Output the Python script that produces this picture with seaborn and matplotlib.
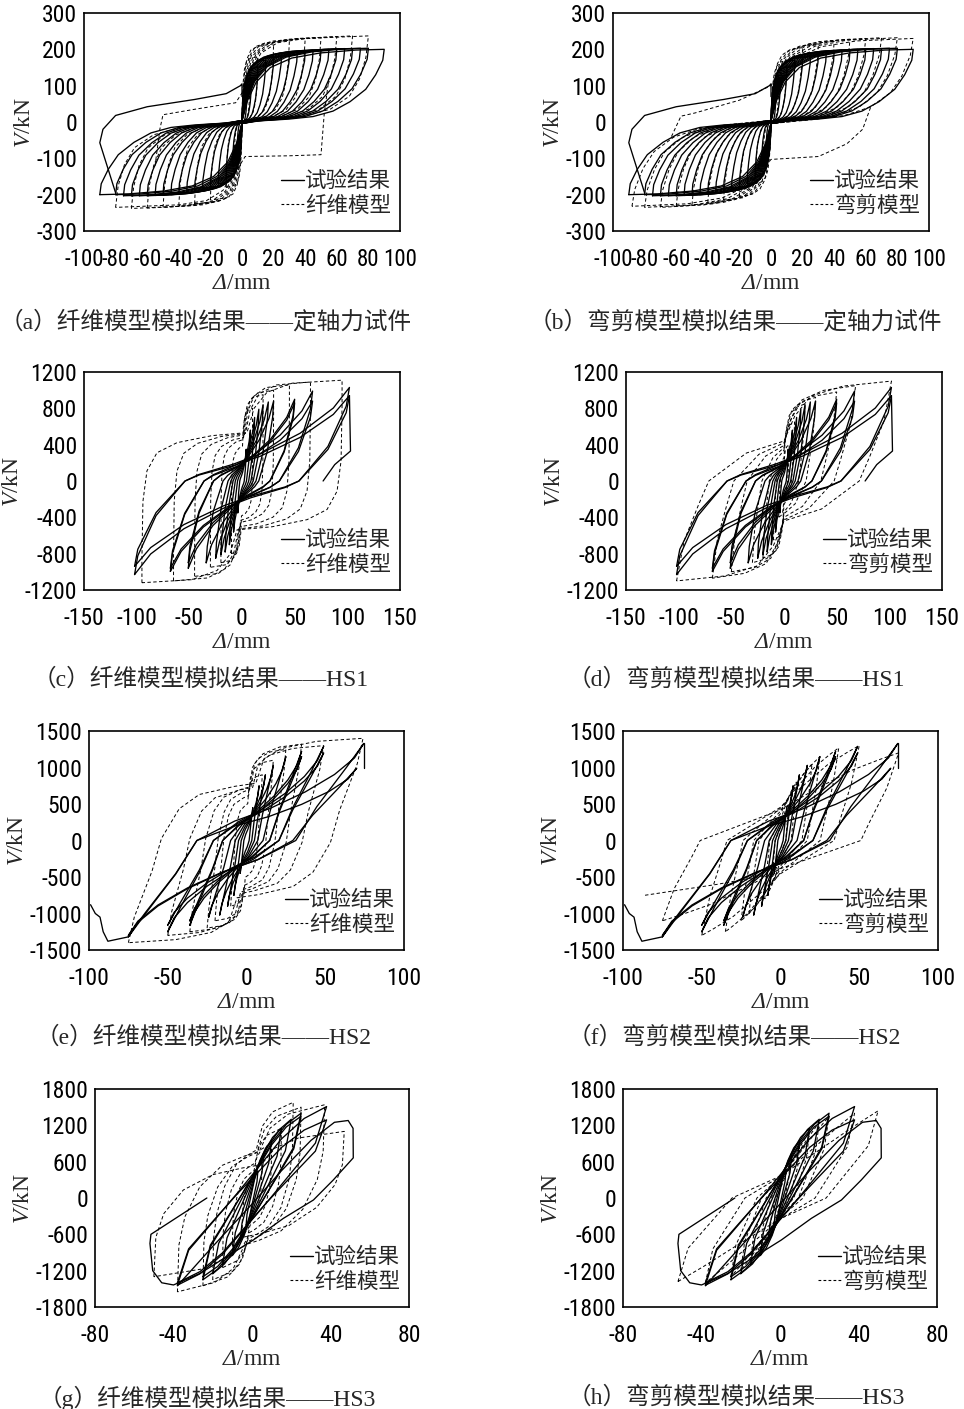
import numpy as np
import pandas as pd
import matplotlib
matplotlib.use('Agg')
import matplotlib.pyplot as plt
import seaborn as sns
from matplotlib.lines import Line2D
from matplotlib import font_manager

# ====== 定轴力试件 (a)(b) ======
# 试验结果: 各循环正/负向位移幅值 (mm) 与峰值剪力 (kN)
AX_test_amp_pos = [3, 6, 10, 15, 20, 25, 30, 35, 40, 45, 50, 55, 60, 65, 70, 75, 80, 90]
AX_test_v_pos = [70, 120, 150, 170, 180, 188, 192, 195, 197, 198, 199, 200, 201, 202, 202, 203, 203, 200]
AX_test_amp_neg = [3, 6, 10, 15, 20, 25, 30, 35, 40, 45, 50, 55, 60, 65, 70, 75, 80, 90]
AX_test_v_neg = [-70, -120, -150, -170, -180, -188, -192, -195, -198, -200, -201, -202, -203, -203, -203, -203, -200, -200]
# 归一化加载支 (从负向峰值到正向峰值), 卸载支取中心对称
AX_test_up_x = [-1, -0.99, -0.94, -0.87, -0.76, -0.64, -0.5, -0.33, -0.12, 0, 0.04, 0.1, 0.2, 0.35, 0.55, 0.8, 1]
AX_test_up_y = [-1, -0.85, -0.65, -0.45, -0.28, -0.15, -0.075, -0.04, -0.015, 0.02, 0.3, 0.55, 0.75, 0.88, 0.95, 0.99, 1]
AX_test_end_x = [-80, -90, -88, -80, -60, -30, -10, -1, 0, 0]
AX_test_end_y = [-195, -57, -20, 18, 42, 62, 78, 100, 105, 70]

AX_fib_amp_pos = [5, 10, 20, 30, 40, 50, 60, 70, 80]
AX_fib_v_pos = [120, 180, 215, 225, 230, 232, 235, 237, 237]
AX_fib_amp_neg = [5, 10, 20, 30, 40, 50, 60, 70, 80]
AX_fib_v_neg = [-120, -180, -215, -225, -230, -235, -237, -238, -235]
AX_fib_up_x = [-1, -0.98, -0.93, -0.85, -0.7, -0.5, -0.25, 0, 0.03, 0.08, 0.15, 0.28, 0.5, 1]
AX_fib_up_y = [-1, -0.75, -0.5, -0.3, -0.15, -0.07, -0.03, 0, 0.35, 0.62, 0.8, 0.92, 0.97, 1]
AX_fib_extra_x = [[55, 52, 50, 30, 2, -3], [-55, -52, -50, -30, -4, 3]]
AX_fib_extra_y = [[120, 20, -90, -93, -95, -130], [-120, -20, 20, 35, 53, 100]]

AX_fs_amp_pos = [5, 10, 20, 30, 40, 50, 60, 70, 80, 90]
AX_fs_v_pos = [110, 170, 205, 215, 222, 228, 230, 232, 232, 230]
AX_fs_amp_neg = [5, 10, 20, 30, 40, 50, 60, 70, 80, 88]
AX_fs_v_neg = [-110, -170, -205, -215, -222, -228, -232, -235, -235, -232]
AX_fs_up_x = [-1, -0.98, -0.92, -0.84, -0.7, -0.52, -0.3, 0, 0.04, 0.1, 0.2, 0.35, 0.6, 1]
AX_fs_up_y = [-1, -0.8, -0.55, -0.35, -0.18, -0.08, -0.03, 0.02, 0.32, 0.58, 0.78, 0.9, 0.97, 1]
AX_fs_extra_x = [[63, 58, 48, 30, 0, -5], [-63, -57, -48, -20, 0, 5]]
AX_fs_extra_y = [[40, -20, -60, -95, -103, -130], [-40, 16, 25, 60, 100, 130]]

# ====== HS1 (c)(d) ======
HS1_test_amp_pos = [4, 8, 12, 16, 20, 25, 30, 50, 50, 67, 67, 102, 102]
HS1_test_v_pos = [350, 560, 700, 790, 840, 870, 880, 900, 860, 990, 880, 1030, 940]
HS1_test_amp_neg = [4, 8, 12, 16, 20, 25, 34, 51, 51, 68, 68, 102, 102]
HS1_test_v_neg = [-350, -560, -700, -780, -810, -850, -900, -960, -900, -995, -960, -1030, -940]
HS1_test_up_x = [-1, -0.97, -0.8, -0.64, -0.53, -0.4, -0.08, 0.17, 0.54, 0.85, 1]
HS1_test_up_y = [-1, -0.8, -0.37, -0.15, 0, 0.07, 0.18, 0.29, 0.51, 0.78, 1]
HS1_test_end_x = [102, 103, 88, 77]
HS1_test_end_y = [940, 330, 180, 0]

HS1_fib_amp_pos = [10, 20, 30, 45, 65, 95]
HS1_fib_v_pos = [800, 950, 1000, 1060, 1090, 1110]
HS1_fib_amp_neg = [10, 20, 30, 45, 65, 95]
HS1_fib_v_neg = [-800, -900, -950, -1050, -1100, -1120]
HS1_fib_up_x = [-1, -1, -0.99, -0.95, -0.85, -0.65, -0.3, 0.05, 0.12, 0.25, 0.5, 1]
HS1_fib_up_y = [-1, -0.75, -0.2, 0.1, 0.28, 0.38, 0.45, 0.48, 0.72, 0.88, 0.97, 1]

HS1_fs_amp_pos = [5, 10, 20, 30, 50, 68, 102]
HS1_fs_v_pos = [400, 650, 850, 920, 980, 1050, 1100]
HS1_fs_amp_neg = [5, 10, 20, 30, 50, 68, 102]
HS1_fs_v_neg = [-400, -650, -850, -900, -1000, -1070, -1100]
HS1_fs_up_x = [-1, -0.93, -0.8, -0.7, -0.35, 0, 0.1, 0.25, 0.55, 1]
HS1_fs_up_y = [-1, -0.6, -0.25, 0, 0.28, 0.4, 0.65, 0.85, 0.95, 1]

# ====== HS2 (e)(f) ======
HS2_test_amp_pos = [4, 8, 12, 17, 25, 35, 35, 49, 49, 70, 74.5]
HS2_test_v_pos = [450, 750, 900, 1030, 1150, 1220, 1150, 1290, 1200, 990, 1330]
HS2_test_amp_neg = [4, 8, 12, 17, 24, 36, 36, 50, 50, 75, 75]
HS2_test_v_neg = [-450, -750, -900, -1020, -1050, -1160, -1100, -1250, -1160, -1320, -1300]
HS2_test_up_x = [-1, -0.85, -0.6, -0.42, -0.1, 0.2, 0.5, 0.75, 0.92, 1]
HS2_test_up_y = [-1, -0.75, -0.35, 0, 0.2, 0.33, 0.5, 0.68, 0.85, 1]
HS2_test_end_x = [[74.5, 74.5], [-75, -88, -91, -93, -96, -99]]
HS2_test_end_y = [[1330, 1000], [-1320, -1380, -1250, -1050, -1000, -880]]

HS2_fib_amp_pos = [10, 17, 25, 35, 49, 74]
HS2_fib_v_pos = [900, 1100, 1250, 1320, 1300, 1400]
HS2_fib_amp_neg = [10, 20, 25, 36, 50, 75]
HS2_fib_v_neg = [-900, -1100, -1200, -1250, -1300, -1400]
HS2_fib_up_x = [-1, -0.95, -0.8, -0.72, -0.57, -0.4, -0.1, 0.08, 0.15, 0.3, 0.6, 1]
HS2_fib_up_y = [-1, -0.75, -0.3, 0.02, 0.31, 0.45, 0.53, 0.56, 0.8, 0.9, 0.97, 1]

HS2_fs_amp_pos = [5, 10, 20, 25, 37, 50, 75]
HS2_fs_v_pos = [500, 800, 1050, 1150, 1270, 1300, 1200]
HS2_fs_amp_neg = [5, 10, 20, 25, 35, 50, 75]
HS2_fs_v_neg = [-500, -800, -1000, -1100, -1250, -1300, -1100]
HS2_fs_up_x = [-1, -0.9, -0.75, -0.68, 0, 0.25, 0.6, 0.85, 1]
HS2_fs_up_y = [-1, -0.6, -0.2, 0, 0.35, 0.55, 0.8, 0.93, 1]
HS2_fs_extra_x = [[-86, -40, -10]]
HS2_fs_extra_y = [[-750, -600, -480]]

# ====== HS3 (g)(h) ======
HS3_test_amp_pos = [3, 6, 10, 15, 20, 25, 25, 38, 38]
HS3_test_v_pos = [450, 700, 950, 1150, 1300, 1400, 1350, 1510, 1290]
HS3_test_amp_neg = [3, 6, 10, 15, 20, 25, 25, 38, 38]
HS3_test_v_neg = [-450, -700, -950, -1100, -1250, -1350, -1300, -1440, -1400]
HS3_test_up_x = [-1, -0.85, -0.5, -0.2, 0.1, 0.4, 0.7, 1]
HS3_test_up_y = [-1, -0.6, -0.25, 0.05, 0.35, 0.65, 0.87, 1]
HS3_test_end_x = [-38, -20, 0, 15, 30, 42, 49, 51.5, 51.6, 41.4, 31.3, 16, 0.7, -26.4, -40, -46, -50.6, -52, -51.5, -23]
HS3_test_end_y = [-1450, -800, -100, 450, 950, 1250, 1280, 1150, 663, 297, -33, -336, -693, -1244, -1436, -1400, -1200, -750, -600, 0]

HS3_fib_amp_pos = [5, 10, 15, 21, 25, 37, 47]
HS3_fib_v_pos = [600, 900, 1150, 1580, 1500, 1540, 1100]
HS3_fib_amp_neg = [5, 10, 15, 20, 25, 38, 50]
HS3_fib_v_neg = [-600, -900, -1150, -1350, -1450, -1550, -1300]
HS3_fib_up_x = [-1, -0.98, -0.9, -0.7, -0.4, -0.1, 0.1, 0.25, 0.5, 1]
HS3_fib_up_y = [-1, -0.5, -0.2, 0.12, 0.35, 0.45, 0.5, 0.75, 0.9, 1]

HS3_fs_amp_pos = [5, 10, 15, 20, 25, 38, 50]
HS3_fs_v_pos = [550, 850, 1100, 1250, 1350, 1400, 1440]
HS3_fs_amp_neg = [5, 10, 15, 20, 25, 38, 52]
HS3_fs_v_neg = [-550, -850, -1050, -1200, -1300, -1400, -1380]
HS3_fs_up_x = [-1, -0.9, -0.47, 0, 0.4, 0.75, 1]
HS3_fs_up_y = [-1, -0.6, 0, 0.25, 0.55, 0.82, 1]

LEGEND_TEST = '试验结果'
LEGEND_FIB = '纤维模型'
LEGEND_FS = '弯剪模型'


def build_loops(up_x, up_y, amp_pos, amp_neg, v_pos, v_neg, extra_x=(), extra_y=()):
    ux = np.asarray(up_x, float)
    uy = np.asarray(up_y, float)
    # 卸载支 = 加载支中心对称
    bx = np.concatenate([ux, -ux[1:]])
    by = np.concatenate([uy, -uy[1:]])
    frames = []
    for k in range(len(amp_pos)):
        d = np.where(bx > 0, bx * amp_pos[k], bx * amp_neg[k])
        v = np.where(by > 0, by * v_pos[k], by * -v_neg[k])
        frames.append(pd.DataFrame({'d': d, 'V': v, 'cycle': k}))
    for j, (ex, ey) in enumerate(zip(extra_x, extra_y)):
        frames.append(pd.DataFrame({'d': ex, 'V': ey, 'cycle': 100 + j}))
    return pd.concat(frames, ignore_index=True)


ax_test = build_loops(AX_test_up_x, AX_test_up_y, AX_test_amp_pos, AX_test_amp_neg,
                      AX_test_v_pos, AX_test_v_neg, [AX_test_end_x], [AX_test_end_y])
ax_fib = build_loops(AX_fib_up_x, AX_fib_up_y, AX_fib_amp_pos, AX_fib_amp_neg,
                     AX_fib_v_pos, AX_fib_v_neg, AX_fib_extra_x, AX_fib_extra_y)
ax_fs = build_loops(AX_fs_up_x, AX_fs_up_y, AX_fs_amp_pos, AX_fs_amp_neg,
                    AX_fs_v_pos, AX_fs_v_neg, AX_fs_extra_x, AX_fs_extra_y)
hs1_test = build_loops(HS1_test_up_x, HS1_test_up_y, HS1_test_amp_pos, HS1_test_amp_neg,
                       HS1_test_v_pos, HS1_test_v_neg, [HS1_test_end_x], [HS1_test_end_y])
hs1_fib = build_loops(HS1_fib_up_x, HS1_fib_up_y, HS1_fib_amp_pos, HS1_fib_amp_neg,
                      HS1_fib_v_pos, HS1_fib_v_neg)
hs1_fs = build_loops(HS1_fs_up_x, HS1_fs_up_y, HS1_fs_amp_pos, HS1_fs_amp_neg,
                     HS1_fs_v_pos, HS1_fs_v_neg)
hs2_test = build_loops(HS2_test_up_x, HS2_test_up_y, HS2_test_amp_pos, HS2_test_amp_neg,
                       HS2_test_v_pos, HS2_test_v_neg, HS2_test_end_x, HS2_test_end_y)
hs2_fib = build_loops(HS2_fib_up_x, HS2_fib_up_y, HS2_fib_amp_pos, HS2_fib_amp_neg,
                      HS2_fib_v_pos, HS2_fib_v_neg)
hs2_fs = build_loops(HS2_fs_up_x, HS2_fs_up_y, HS2_fs_amp_pos, HS2_fs_amp_neg,
                     HS2_fs_v_pos, HS2_fs_v_neg, HS2_fs_extra_x, HS2_fs_extra_y)
hs3_test = build_loops(HS3_test_up_x, HS3_test_up_y, HS3_test_amp_pos, HS3_test_amp_neg,
                       HS3_test_v_pos, HS3_test_v_neg, [HS3_test_end_x], [HS3_test_end_y])
hs3_fib = build_loops(HS3_fib_up_x, HS3_fib_up_y, HS3_fib_amp_pos, HS3_fib_amp_neg,
                      HS3_fib_v_pos, HS3_fib_v_neg)
hs3_fs = build_loops(HS3_fs_up_x, HS3_fs_up_y, HS3_fs_amp_pos, HS3_fs_amp_neg,
                     HS3_fs_v_pos, HS3_fs_v_neg)

# --- style ---
sns.set_style('white')


def pick_narrow_font():
    # 刻度数字是窄体无衬线字, 找一个窄体, 没有就用普通 Liberation Sans
    prefer = ['Liberation Sans Narrow', 'Arial Narrow', 'Roboto Condensed', 'Open Sans Condensed']
    entries = font_manager.fontManager.ttflist
    for name in prefer:
        for f in entries:
            if f.name == name and f.style == 'normal' and f.weight in (400, 'normal', 'regular'):
                return f.fname, True
    for f in entries:
        if (f.name in ('DejaVu Sans', 'Noto Sans', 'Roboto', 'Open Sans', 'Liberation Sans')
                and f.stretch in ('condensed', 'semi-condensed')
                and f.style == 'normal' and f.weight in (400, 'normal', 'regular')):
            return f.fname, True
    return font_manager.findfont('Liberation Sans'), False


NUM_FILE, IS_NARROW = pick_narrow_font()
TICK_SIZE = 17 if IS_NARROW else 14.5
TICK_SIZE_CROWDED = 16.5 if IS_NARROW else 13

plt.rcParams['font.family'] = ['Liberation Sans', 'Noto Sans CJK SC', 'DejaVu Sans']
plt.rcParams['mathtext.fontset'] = 'custom'
plt.rcParams['mathtext.rm'] = 'Liberation Serif:italic'
plt.rcParams['mathtext.it'] = 'Liberation Serif:italic'
plt.rcParams['axes.unicode_minus'] = False

W, H = 964, 1409
fig = plt.figure(figsize=(W / 100, H / 100), dpi=100)

# (left, right, top, bottom) in pixels, limits, ticks, data, caption
panels = [
    ((84, 400, 13, 231), (-100, 100, 20), (-300, 300, 100), ax_test, ax_fib, LEGEND_FIB,
     '（a）纤维模型模拟结果——定轴力试件', (0, 322)),
    ((613, 929, 13, 231), (-100, 100, 20), (-300, 300, 100), ax_test, ax_fs, LEGEND_FS,
     '（b）弯剪模型模拟结果——定轴力试件', (529, 322)),
    ((84, 400, 372, 590), (-150, 150, 50), (-1200, 1200, 400), hs1_test, hs1_fib, LEGEND_FIB,
     '（c）纤维模型模拟结果——HS1', (33, 679)),
    ((626, 942, 372, 590), (-150, 150, 50), (-1200, 1200, 400), hs1_test, hs1_fs, LEGEND_FS,
     '（d）弯剪模型模拟结果——HS1', (568, 679)),
    ((89, 404, 731, 950), (-100, 100, 50), (-1500, 1500, 500), hs2_test, hs2_fib, LEGEND_FIB,
     '（e）纤维模型模拟结果——HS2', (36, 1038)),
    ((623, 938, 731, 950), (-100, 100, 50), (-1500, 1500, 500), hs2_test, hs2_fs, LEGEND_FS,
     '（f）弯剪模型模拟结果——HS2', (568, 1038)),
    ((95, 409, 1089, 1307), (-80, 80, 40), (-1800, 1800, 600), hs3_test, hs3_fib, LEGEND_FIB,
     '（g）纤维模型模拟结果——HS3', (39, 1398)),
    ((623, 937, 1089, 1307), (-80, 80, 40), (-1800, 1800, 600), hs3_test, hs3_fs, LEGEND_FS,
     '（h）弯剪模型模拟结果——HS3', (568, 1398)),
]

DASH = (0, (3.5, 2.5))

for (l, r, t, b), xl, yl, test_df, model_df, model_name, caption, cap_xy in panels:
    ax = fig.add_axes([l / W, 1 - b / H, (r - l) / W, (b - t) / H])
    sns.lineplot(data=model_df, x='d', y='V', units='cycle', estimator=None, sort=False,
                 color='black', lw=0.7, linestyle=DASH, ax=ax, legend=False)
    sns.lineplot(data=test_df, x='d', y='V', units='cycle', estimator=None, sort=False,
                 color='black', lw=0.95, ax=ax, legend=False)
    ax.set_xlim(xl[0], xl[1])
    ax.set_ylim(yl[0], yl[1])
    ax.set_xticks(np.arange(xl[0], xl[1] + 1, xl[2]))
    ax.set_yticks(np.arange(yl[0], yl[1] + 1, yl[2]))
    ax.tick_params(axis='x', direction='in', length=5, width=1, pad=12, colors='black')
    ax.tick_params(axis='y', direction='in', length=0, pad=5, colors='black')
    x_size = TICK_SIZE_CROWDED if xl[2] == 20 else TICK_SIZE
    for lab in ax.get_xticklabels():
        lab.set_fontproperties(font_manager.FontProperties(fname=NUM_FILE, size=x_size))
    for lab in ax.get_yticklabels():
        lab.set_fontproperties(font_manager.FontProperties(fname=NUM_FILE, size=TICK_SIZE))
    for sp in ax.spines.values():
        sp.set_visible(True)
        sp.set_color('black')
        sp.set_linewidth(1.2)
    ax.set_xlabel(r'$\Delta$/mm', fontfamily='Liberation Serif', fontsize=17, labelpad=2)
    ax.set_ylabel(r'$V$/kN', fontfamily='Liberation Serif', fontsize=17, labelpad=1)

    handles = [Line2D([], [], color='black', lw=1.0),
               Line2D([], [], color='black', lw=0.8, linestyle=(0, (2.5, 2)))]
    ax.legend(handles, [LEGEND_TEST, model_name], loc='lower right',
              bbox_to_anchor=(1.0, 0.025), frameon=False,
              prop={'family': 'Noto Sans CJK SC', 'size': 15.5},
              handlelength=1.1, handletextpad=0.05, labelspacing=0.12,
              borderaxespad=0.2, borderpad=0.2)

    fig.text(cap_xy[0] / W, 1 - cap_xy[1] / H, caption, ha='left', va='center',
             fontsize=17, family=['Liberation Serif', 'Noto Sans CJK SC'])

fig.savefig('out.png', dpi=100)
